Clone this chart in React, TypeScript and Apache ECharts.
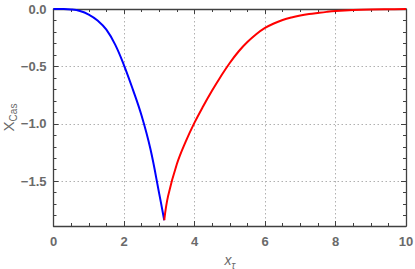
import React, { useEffect, useRef } from "react";
import * as echarts from "echarts";

// Blue branch (x < π)
const blueX = [0, 0.25, 0.5, 0.75, 1.0, 1.25, 1.5, 1.75, 2.0, 2.25, 2.5, 2.75, 3.0, 3.1416];
const blueY = [0, -0.0005, -0.004, -0.017, -0.048, -0.1, -0.18, -0.31, -0.49, -0.7, -0.93, -1.22, -1.61, -1.84];

// Red branch (x > π)
const redX = [3.1416, 3.25, 3.5, 3.75, 4.0, 4.25, 4.5, 4.75, 5.0, 5.25, 5.5, 5.75, 6.0, 6.25, 6.5, 6.75, 7.0, 7.25, 7.5, 7.75, 8.0, 8.5, 9.0, 9.5, 10.0];
const redY = [-1.84, -1.63, -1.35, -1.155, -0.99, -0.845, -0.71, -0.585, -0.47, -0.37, -0.288, -0.22, -0.165, -0.126, -0.096, -0.074, -0.057, -0.044, -0.034, -0.025, -0.018, -0.009, -0.004, -0.002, -0.001];

const xTickValues = [0, 2, 4, 6, 8, 10];
const yTickValues = [0, -0.5, -1.0, -1.5];

const FRAME = "#404040";
const LABEL = "#6a6a6a";
const FONT = "Liberation Sans, Arial, sans-serif";

export default function App() {
  const ref = useRef<HTMLDivElement>(null);
  useEffect(() => {
    if (!ref.current) return;
    const chart = echarts.init(ref.current, undefined, { renderer: "svg" });
    const isTick = (v: number, list: number[]) => list.some((t) => Math.abs(t - v) < 1e-6);
    const yFmt = (v: number) => {
      const real = -v;
      if (!isTick(real, yTickValues)) return "";
      if (Math.abs(real) < 1e-9) return "0.0";
      return "\u2212" + Math.abs(real).toFixed(1);
    };
    const xFmt = (v: number) => (isTick(v, xTickValues) ? String(v) : "");
    const mkAxisLine = () => ({ show: true, onZero: false, lineStyle: { color: FRAME, width: 1.3 } });
    const mkTick = () => ({ show: true, inside: true, length: 5, lineStyle: { color: FRAME, width: 1 } });
    const mkGrid = () => ({ show: true, lineStyle: { color: "#b0b0b0", width: 1, type: [1.5, 2.5] as any } });
    const baseX = () => ({
      type: "value" as const,
      min: 0,
      max: 10,
      interval: 2,
      axisLine: mkAxisLine(),
      axisTick: mkTick(),
      minorTick: { show: true, splitNumber: 4, length: 3, lineStyle: { color: FRAME, width: 1 } },
    });
    const baseY = () => ({
      type: "value" as const,
      min: 0,
      max: 1.89,
      interval: 0.5,
      inverse: true,
      axisLine: mkAxisLine(),
      axisTick: mkTick(),
      minorTick: { show: true, splitNumber: 5, length: 3, lineStyle: { color: FRAME, width: 1 } },
    });
    chart.setOption({
      animation: false,
      backgroundColor: "#ffffff",
      grid: {
        left: 53.5,
        right: 9,
        top: 9,
        bottom: 43,
        containLabel: false,
        outerBoundsMode: "none",
        show: false,
      },
      xAxis: [
        {
          ...baseX(),
          position: "bottom",
          axisLabel: { color: LABEL, fontWeight: "bold", fontSize: 13, fontFamily: FONT, margin: 9, formatter: xFmt },
          splitLine: mkGrid(),
          name: "{a|x}{b|τ}",
          nameLocation: "middle",
          nameGap: 27,
          nameMoveOverlap: false,
          nameTextStyle: {
            rich: {
              a: { fontSize: 14, fontStyle: "italic", color: LABEL, fontFamily: FONT, verticalAlign: "bottom", padding: [0, 0, 3, 0] },
              b: { fontSize: 10, fontStyle: "italic", color: LABEL, fontFamily: FONT, verticalAlign: "bottom" },
            },
          },
        },
        {
          ...baseX(),
          position: "top",
          axisLabel: { show: false },
          splitLine: { show: false },
        },
      ],
      yAxis: [
        {
          ...baseY(),
          position: "left",
          axisLabel: { color: LABEL, fontWeight: "bold", fontSize: 13, fontFamily: FONT, margin: 7, formatter: yFmt },
          splitLine: mkGrid(),
          name: "{a|X}{b|Cas}",
          nameLocation: "middle",
          nameRotate: 90,
          nameGap: 35,
          nameMoveOverlap: false,
          nameTextStyle: {
            rich: {
              a: { fontSize: 15, color: LABEL, fontFamily: FONT, verticalAlign: "bottom", padding: [0, 0, 3, 0] },
              b: { fontSize: 10, color: LABEL, fontFamily: FONT, verticalAlign: "bottom" },
            },
          },
        },
        {
          ...baseY(),
          position: "right",
          axisLabel: { show: false },
          splitLine: { show: false },
        },
      ],
      series: [
        {
          type: "line",
          xAxisIndex: 0,
          yAxisIndex: 0,
          data: blueX.map((x, i) => [x, -blueY[i]]),
          smooth: 0.4,
          showSymbol: false,
          lineStyle: { color: "#0000ff", width: 2 },
          z: 5,
        },
        {
          type: "line",
          xAxisIndex: 0,
          yAxisIndex: 0,
          data: redX.map((x, i) => [x, -redY[i]]),
          smooth: 0.4,
          showSymbol: false,
          lineStyle: { color: "#ff0000", width: 2 },
          z: 5,
        },
      ],
    });
    return () => chart.dispose();
  }, []);
  return <div ref={ref} style={{ width: 415, height: 269, position: "absolute", left: 0, top: 0 }} />;
}
